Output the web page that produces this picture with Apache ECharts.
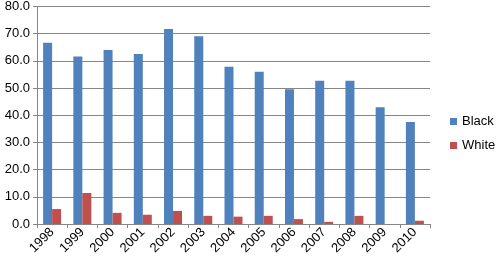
<!DOCTYPE html>
<html>
<head>
<meta charset="utf-8">
<script src="https://cdn.jsdelivr.net/npm/echarts@6/dist/echarts.min.js"></script>
<style>
html,body{margin:0;padding:0;background:#fff;}
#chart{width:496px;height:268px;}
</style>
</head>
<body>
<div id="chart"></div>
<script>
var years = ['1998','1999','2000','2001','2002','2003','2004','2005','2006','2007','2008','2009','2010'];
var black = [66.7, 61.6, 64.0, 62.5, 71.7, 69.1, 57.8, 56.0, 49.6, 52.7, 52.7, 42.9, 37.5];
var white = [5.5, 11.4, 4.1, 3.4, 4.8, 3.0, 2.7, 3.0, 1.8, 0.8, 3.0, 0, 1.2];

var chart = echarts.init(document.getElementById('chart'));
var font = 'Liberation Sans';
var option = {
    animation: false,
    textStyle: {fontFamily: font},
    grid: {left: 37, top: 4, right: 66, bottom: 44, containLabel: false},
    legend: {
        orient: 'vertical',
        left: 450,
        top: 115,
        padding: 0,
        itemWidth: 7,
        itemHeight: 7,
        itemGap: 11,
        icon: 'rect',
        textStyle: {fontFamily: font, fontSize: 13, color: '#000'},
        data: ['Black', 'White']
    },
    xAxis: {
        type: 'category',
        data: years,
        axisLine: {lineStyle: {color: '#868686'}},
        axisTick: {show: true, length: 4, lineStyle: {color: '#868686'}},
        axisLabel: {rotate: 45, fontSize: 13, color: '#000', margin: 6, fontFamily: font}
    },
    yAxis: {
        type: 'value',
        min: 0,
        max: 80,
        interval: 10,
        axisLine: {show: true, lineStyle: {color: '#868686'}},
        axisTick: {show: true, length: 4, lineStyle: {color: '#868686'}},
        splitLine: {lineStyle: {color: '#868686'}},
        axisLabel: {
            fontSize: 13, color: '#000', margin: 7, fontFamily: font,
            formatter: function (v) { return v.toFixed(1); }
        }
    },
    series: [
        {name: 'Black', type: 'bar', data: black, barWidth: 9, barGap: '0%',
         itemStyle: {color: '#4F81BD'}},
        {name: 'White', type: 'bar', data: white, barWidth: 9,
         itemStyle: {color: '#C0504D'}}
    ]
};
chart.setOption(option);
</script>
</body>
</html>
